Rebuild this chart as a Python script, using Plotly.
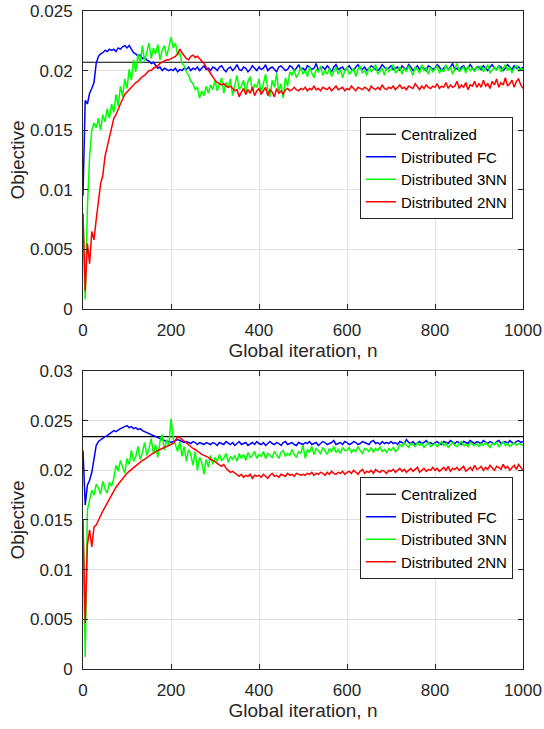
import plotly.graph_objects as go

# ---------------- data (values in units of 1e-4) ----------------
ITER = list(range(0, 1001, 5))
UNIT = 1e-4

CENTRAL_A = 207
A_FC = [95,175,172,181,185,190,206,212,214,215,217,216,218,217,218,216,219,218,220,221,
        219,221,218,215,214,212,213,210,211,209,208,206,207,204,202,203,200,202,201,200,
        201,200,202,199,201,200,202,201,203,200,202,201,203,200,202,204,201,202,200,203,
        202,200,203,204,201,199,202,203,200,202,205,201,200,203,202,199,201,204,202,200,
        203,201,202,205,200,202,203,201,199,203,204,202,200,201,204,203,200,202,205,201,
        202,200,204,203,201,202,206,200,202,203,201,204,202,199,203,205,201,202,203,200,
        202,204,201,200,203,205,202,201,203,200,202,204,203,201,200,202,205,203,201,202,
        204,201,202,203,200,204,202,201,205,203,200,202,204,201,203,202,200,204,203,201,
        202,205,203,200,202,204,201,203,206,201,202,200,203,204,201,202,205,202,200,203,
        203,201,204,202,200,203,205,202,201,204,203,200,202,205,203,201,204,202,203,201,
        203]
A_3NN = [80,8,85,128,150,156,152,160,150,163,157,168,160,172,165,180,170,187,178,193,
         185,201,192,209,199,214,206,221,208,216,223,210,219,214,222,209,217,221,212,219,
         228,219,223,213,215,206,204,199,196,191,189,184,186,177,183,179,187,181,188,184,
         192,183,188,194,181,190,186,193,179,189,196,184,187,192,180,191,195,183,188,186,
         193,181,189,197,184,178,192,186,198,182,189,177,194,187,199,196,201,194,198,203,
         197,200,195,203,198,194,201,199,204,196,200,197,202,195,199,203,197,201,194,200,
         203,197,199,202,195,201,204,198,200,196,203,199,201,205,197,200,202,196,203,199,
         201,205,198,200,203,197,202,199,204,200,196,203,201,198,205,200,202,197,203,199,
         202,204,198,201,199,205,200,203,197,202,206,199,201,203,198,204,200,202,199,203,
         201,204,199,202,205,198,201,203,200,204,199,202,205,200,203,198,202,204,200,202,
         201]
A_2NN = [80,15,55,38,65,58,75,88,105,112,128,136,145,152,160,163,168,172,176,180,
         182,184,186,188,190,191,193,195,196,198,200,200,202,203,204,206,207,208,209,209,
         210,211,212,214,218,215,212,210,209,212,213,211,212,210,208,206,203,200,197,194,
         192,190,189,188,189,187,186,187,185,183,184,178,182,185,180,184,181,186,179,183,
         185,180,183,186,179,184,182,178,185,181,183,180,184,185,183,184,186,184,183,185,
         184,186,183,185,184,187,184,185,183,186,185,184,186,183,185,187,184,185,186,183,
         185,184,187,185,183,186,185,184,186,185,183,187,185,184,186,184,188,185,184,186,
         185,187,184,186,188,185,186,184,187,186,185,189,186,184,187,185,188,186,185,187,
         186,189,185,187,186,190,185,188,186,187,191,185,188,186,190,184,188,187,191,186,
         189,186,192,187,189,185,191,188,193,186,190,188,194,187,189,192,186,191,193,188,
         185]

CENTRAL_B = 234
B_FC = [220,165,185,190,198,210,225,229,231,233,234,235,237,238,240,239,241,242,243,244,
        245,243,244,242,243,241,242,240,239,238,237,236,235,234,233,232,231,230,229,229,
        228,229,230,231,230,229,228,229,228,227,229,228,226,228,227,226,228,227,226,228,
        227,225,228,227,226,229,227,226,228,225,227,229,226,227,228,225,227,228,226,229,
        227,226,228,225,227,229,227,226,228,227,225,228,229,226,227,228,226,225,228,227,
        226,228,227,229,226,227,228,225,227,229,228,226,227,228,230,226,227,228,226,229,
        228,226,227,229,228,226,227,229,228,227,226,229,230,227,228,226,229,227,228,227,
        229,227,228,226,229,228,227,231,228,227,229,226,228,229,227,228,230,227,228,226,
        228,229,227,226,229,228,227,230,228,227,229,228,226,229,228,227,230,228,227,229,
        228,227,230,228,227,229,228,226,229,230,227,228,229,227,230,228,227,229,230,228,
        229]
B_3NN = [150,12,160,172,180,175,186,182,176,189,181,177,188,184,192,205,199,210,203,197,
         212,206,220,209,214,224,211,218,228,215,222,232,217,226,213,229,236,220,231,224,
         252,232,226,219,229,214,224,209,221,216,205,219,200,213,208,196,211,203,215,206,
         213,209,216,210,212,217,208,214,211,215,209,217,212,216,210,218,213,215,219,212,
         216,214,219,212,217,215,213,219,216,212,218,220,214,217,215,221,216,213,219,217,
         225,212,221,218,224,216,222,219,217,223,220,216,222,219,224,218,221,217,223,220,
         220,223,218,221,219,224,220,217,222,221,219,223,218,222,220,224,219,221,218,222,
         220,223,219,221,226,224,228,225,223,227,226,224,228,225,227,223,226,228,224,226,
         227,224,226,229,225,227,223,226,228,225,224,227,229,225,226,224,228,226,225,227,
         224,227,225,228,226,223,227,226,228,224,226,229,225,227,224,226,228,225,227,226,
         225]
B_2NN = [150,46,125,140,123,143,145,150,154,159,163,167,171,176,180,183,186,189,192,195,
         197,199,201,203,205,207,209,210,211,213,214,216,217,219,220,221,222,223,224,225,
         226,227,230,234,233,231,229,228,226,224,222,221,219,218,216,215,214,213,211,210,
         209,207,205,204,206,202,200,198,199,197,195,194,196,193,195,194,196,192,195,194,
         195,193,196,194,192,195,197,194,195,193,196,195,194,197,195,196,194,197,196,195,
         196,195,197,196,198,195,197,196,198,197,195,198,196,199,197,196,198,197,199,196,
         198,199,197,200,198,196,199,201,197,199,198,200,197,201,199,198,200,199,197,200,
         199,201,198,200,202,199,201,198,200,202,199,201,203,198,200,202,199,201,200,203,
         200,202,199,201,203,200,204,199,202,201,203,200,202,204,199,201,203,200,205,201,
         202,204,200,203,201,205,202,200,204,203,201,206,202,204,200,203,205,201,206,203,
         200]

NAMES = ["Centralized", "Distributed FC", "Distributed 3NN", "Distributed 2NN"]
COLORS = ["#000000", "#0000ff", "#00ff00", "#ff0000"]

X_TICKS = [0, 200, 400, 600, 800, 1000]
Y_TICKS_A = [0, 0.005, 0.01, 0.015, 0.02, 0.025]
Y_TICKS_B = [0, 0.005, 0.01, 0.015, 0.02, 0.025, 0.03]
Y_LABELS_A = ["0", "0.005", "0.01", "0.015", "0.02", "0.025"]
Y_LABELS_B = ["0", "0.005", "0.01", "0.015", "0.02", "0.025", "0.03"]

# ---------------- figure ----------------
FONT = "Liberation Sans, Arial, Helvetica, sans-serif"
fig = go.Figure()

def add_panel(central, series, xa, ya, legend):
    ys = [[central * UNIT, central * UNIT]] + [[v * UNIT for v in s] for s in series]
    xs = [[ITER[0], ITER[-1]]] + [ITER] * len(series)
    widths = [1.2, 1.5, 1.5, 1.5]
    for name, color, wd, x, y in zip(NAMES, COLORS, widths, xs, ys):
        fig.add_trace(go.Scatter(x=x, y=y, mode="lines", name=name,
                                 line=dict(color=color, width=wd),
                                 xaxis=xa, yaxis=ya, legend=legend))

add_panel(CENTRAL_A, [A_FC, A_3NN, A_2NN], "x", "y", "legend")
add_panel(CENTRAL_B, [B_FC, B_3NN, B_2NN], "x2", "y2", "legend2")

axis_common = dict(showline=True, linecolor="#262626", linewidth=1, mirror="allticks",
                   ticks="inside", ticklen=5, tickcolor="#262626", tickwidth=1,
                   showgrid=True, gridcolor="#e1e1e1", gridwidth=1, zeroline=False,
                   tickfont=dict(family=FONT, size=17, color="#262626"),
                   ticklabelstandoff=6, automargin=False)

xaxis_common = dict(axis_common, range=[0, 1000], tickvals=X_TICKS,
                    title=dict(text="Global iteration, n", standoff=2,
                               font=dict(family=FONT, size=19, color="#262626")))

legend_common = dict(bgcolor="white", bordercolor="#262626", borderwidth=1,
                     font=dict(family=FONT, size=15, color="#000000"),
                     xanchor="right", yanchor="top", tracegroupgap=0, itemwidth=30)

fig.update_layout(
    width=544, height=729,
    margin=dict(l=83, r=21, t=11, b=60, autoexpand=False),
    paper_bgcolor="white", plot_bgcolor="white",
    showlegend=True,
    xaxis=dict(xaxis_common, domain=[0, 1], anchor="y"),
    yaxis=dict(axis_common, domain=[0.5471, 1], range=[0, 0.025], anchor="x",
               tickvals=Y_TICKS_A, ticktext=Y_LABELS_A,
               title=dict(text="Objective", standoff=0,
                          font=dict(family=FONT, size=19, color="#262626"))),
    xaxis2=dict(xaxis_common, domain=[0, 1], anchor="y2"),
    yaxis2=dict(axis_common, domain=[0, 0.4529], range=[0, 0.03], anchor="x2",
                tickvals=Y_TICKS_B, ticktext=Y_LABELS_B,
                title=dict(text="Objective", standoff=0,
                           font=dict(family=FONT, size=19, color="#262626"))),
    legend=dict(legend_common, x=0.9773, y=0.8389),
    legend2=dict(legend_common, x=0.9773, y=0.2918),
)

fig.write_html("out.html")
